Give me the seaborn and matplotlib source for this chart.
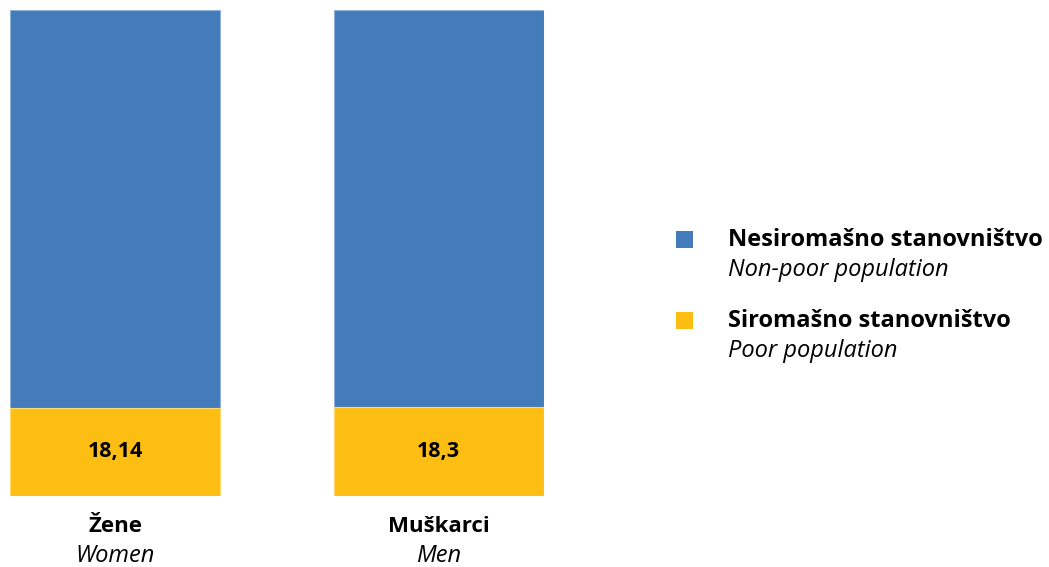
import numpy as np
import pandas as pd
import matplotlib
matplotlib.use("Agg")
import matplotlib.pyplot as plt
import seaborn as sns
from matplotlib.patches import Rectangle

categories = ["Žene", "Muškarci"]
categoriesEn = ["Women", "Men"]
poor = [18.14, 18.3]
poorLabels = ["18,14", "18,3"]
nonPoor = [100 - v for v in poor]

seriesNames = ["Nesiromašno stanovništvo", "Siromašno stanovništvo"]
seriesNamesEn = ["Non-poor population", "Poor population"]
blue = "#447BBB"
yellow = "#FDBE13"

sns.set_theme(style="white")
plt.rcParams['font.family'] = ['Open Sans', 'DejaVu Sans']
plt.rcParams['text.color'] = 'black'

df = pd.DataFrame({"cat": categories,
                   "poor": poor,
                   "total": [p + n for p, n in zip(poor, nonPoor)]})

W, H = 1049, 567
fig = plt.figure(figsize=(W / 100, H / 100), dpi=100)
ax = fig.add_axes([10 / W, 71 / H, 534 / W, 486 / H])

sns.barplot(data=df, x="cat", y="total", color=blue, width=0.65,
            edgecolor="#8fb0d8", linewidth=0.8, saturation=1, ax=ax)
sns.barplot(data=df, x="cat", y="poor", color=yellow, width=0.65,
            edgecolor="#fdd870", linewidth=0.8, saturation=1, ax=ax)

ax.set_xlim(-0.325, 1.325)
ax.set_ylim(0, 100)
ax.set_xticks([])
ax.set_yticks([])
ax.set_xlabel("")
ax.set_ylabel("")
for s in ax.spines.values():
    s.set_visible(False)

# value labels in the poor segment
for i, v in enumerate(poor):
    ax.text(i, v / 2, poorLabels[i], ha="center", va="center",
            fontsize=15.5, fontweight="bold", color="black")

# category labels
for i in range(len(categories)):
    xf = (10 + (i + 0.325) / 1.65 * 534) / W
    fig.text(xf, 1 - 526 / H, categories[i], ha="center", va="center",
             fontsize=16, fontweight="bold")
    fig.text(xf, 1 - 556 / H, categoriesEn[i], ha="center", va="center",
             fontsize=17, fontstyle="italic")

# legend
colors = [blue, yellow]
rowY = [240, 321]
for j in range(2):
    fig.patches.append(Rectangle((676 / W, 1 - (rowY[j] + 8) / H), 17 / W, 17 / H,
                                 transform=fig.transFigure, facecolor=colors[j],
                                 edgecolor="none"))
    fig.text(728 / W, 1 - rowY[j] / H, seriesNames[j], ha="left", va="center",
             fontsize=17, fontweight="bold")
    fig.text(728 / W, 1 - (rowY[j] + 30) / H, seriesNamesEn[j], ha="left",
             va="center", fontsize=17, fontstyle="italic")

plt.savefig("out.png", dpi=100)
